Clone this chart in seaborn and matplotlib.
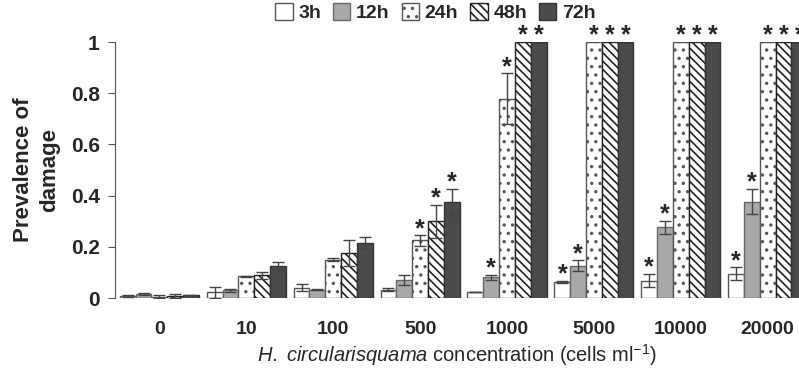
import seaborn as sns
import matplotlib.pyplot as plt
import pandas as pd

# data
conc = ["0", "10", "100", "500", "1000", "5000", "10000", "20000"]
times = ["3h", "12h", "24h", "48h", "72h"]

mean_3h = [0.008, 0.022, 0.040, 0.033, 0.024, 0.062, 0.068, 0.095]
mean_12h = [0.017, 0.030, 0.032, 0.070, 0.081, 0.127, 0.276, 0.377]
mean_24h = [0.005, 0.085, 0.150, 0.225, 0.778, 1.0, 1.0, 1.0]
mean_48h = [0.008, 0.088, 0.175, 0.300, 1.0, 1.0, 1.0, 1.0]
mean_72h = [0.010, 0.126, 0.216, 0.375, 1.0, 1.0, 1.0, 1.0]

err_3h = [0.004, 0.020, 0.013, 0.005, 0.001, 0.004, 0.025, 0.025]
err_12h = [0.004, 0.005, 0.002, 0.020, 0.010, 0.020, 0.025, 0.050]
err_24h = [0.006, 0.001, 0.005, 0.020, 0.100, 0.0, 0.0, 0.0]
err_48h = [0.008, 0.012, 0.050, 0.065, 0.0, 0.0, 0.0, 0.0]
err_72h = [0.003, 0.015, 0.022, 0.050, 0.0, 0.0, 0.0, 0.0]

# significance stars
sig_3h = [0, 0, 0, 0, 0, 1, 1, 1]
sig_12h = [0, 0, 0, 0, 1, 1, 1, 1]
sig_24h = [0, 0, 0, 1, 1, 1, 1, 1]
sig_48h = [0, 0, 0, 1, 1, 1, 1, 1]
sig_72h = [0, 0, 0, 1, 1, 1, 1, 1]

means = [mean_3h, mean_12h, mean_24h, mean_48h, mean_72h]
errs = [err_3h, err_12h, err_24h, err_48h, err_72h]
sigs = [sig_3h, sig_12h, sig_24h, sig_48h, sig_72h]

rows = []
for t, m in zip(times, means):
    for c, v in zip(conc, m):
        rows.append({"conc": c, "time": t, "val": v})
df = pd.DataFrame(rows)

sns.set_style("white")
plt.rcParams['font.family'] = ['Liberation Sans', 'DejaVu Sans']
plt.rcParams['mathtext.fontset'] = 'custom'
plt.rcParams['mathtext.rm'] = 'Liberation Sans'
plt.rcParams['mathtext.it'] = 'Liberation Sans:italic'
plt.rcParams['hatch.linewidth'] = 1.2

fig = plt.figure(figsize=(7.99, 3.77), dpi=100)
ax = fig.add_axes([0.144, 0.2095, 0.856, 0.679])

sns.barplot(data=df, x="conc", y="val", hue="time", order=conc, hue_order=times,
            errorbar=None, width=0.91, ax=ax, legend=False)

faces = ["white", "#a8a8a8", "white", "white", "#4a4a4a"]
hatches = [None, None, "..", "\\\\\\\\", None]
edges = ["#555555", "#666666", "#555555", "#222222", "#333333"]

bars = list(ax.containers)
for i, cont in enumerate(bars):
    for j, p in enumerate(cont.patches):
        p.set_facecolor(faces[i])
        p.set_edgecolor(edges[i])
        p.set_linewidth(1.0)
        if hatches[i]:
            p.set_hatch(hatches[i])
        xc = p.get_x() + p.get_width() / 2
        h = p.get_height()
        e = errs[i][j]
        if e > 0:
            ax.errorbar(xc, h, yerr=e, fmt="none", ecolor="#444444",
                        elinewidth=1, capsize=4, capthick=1, zorder=5)
        if sigs[i][j]:
            ax.annotate("*", (xc, h + e), xytext=(0, -4), textcoords="offset points",
                        ha="center", va="bottom", fontsize=18, fontweight="bold",
                        annotation_clip=False)

ax.set_xlim(-0.51, 7.36)
ax.set_ylim(0, 1)
ax.set_yticks([0, 0.2, 0.4, 0.6, 0.8, 1])
ax.set_yticklabels(["0", "0.2", "0.4", "0.6", "0.8", "1"])
sns.despine(ax=ax, bottom=True)
ax.spines["left"].set_color("#555555")
ax.tick_params(axis="y", left=True, length=5, color="#555555", labelsize=15, pad=6)
ax.tick_params(axis="x", bottom=False, labelsize=14, pad=13)
for lab in ax.get_xticklabels() + ax.get_yticklabels():
    lab.set_fontweight("bold")

ax.set_xlabel(r"$\mathit{H.\ circularisquama}$ concentration (cells ml$^{-1}$)",
              fontsize=14.5, labelpad=3)
ax.set_ylabel("Prevalence of\ndamage", fontsize=16, fontweight="bold",
              labelpad=8, linespacing=1.3)

handles = [c.patches[0] for c in bars]
fig.legend(handles, times, loc="center", bbox_to_anchor=(0.545, 0.966), ncol=5,
           frameon=False, handlelength=0.9, handleheight=0.9, handletextpad=0.3,
           columnspacing=0.6, prop={"weight": "bold", "size": 14})

fig.savefig("out.png", dpi=100)
